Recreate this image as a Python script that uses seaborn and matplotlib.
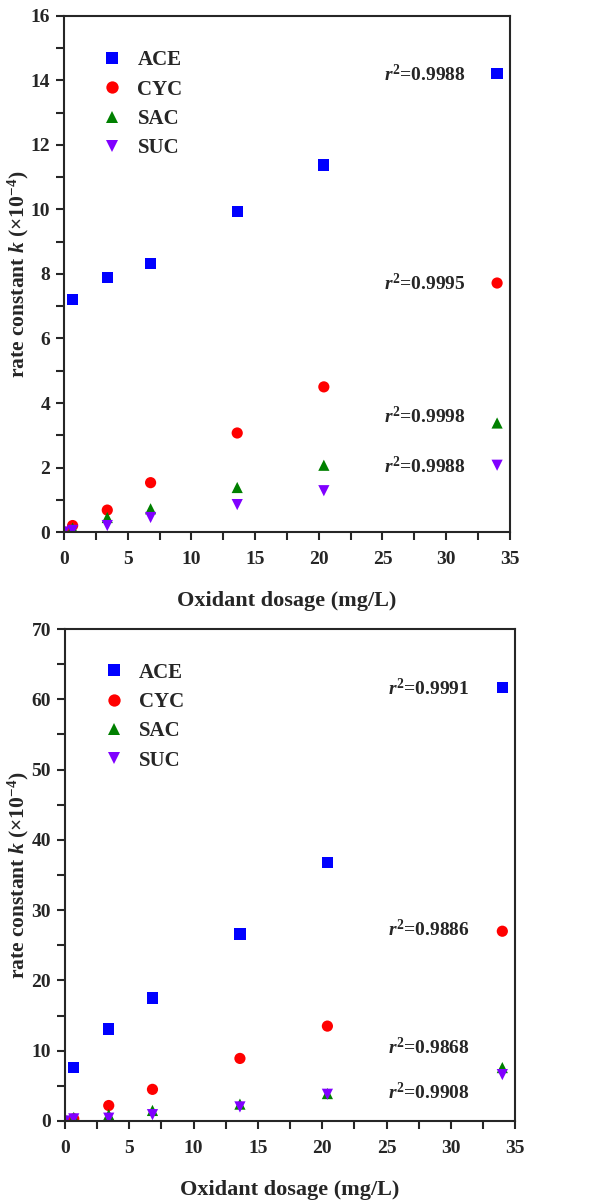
import numpy as np
import pandas as pd
import seaborn as sns
import matplotlib.pyplot as plt
from matplotlib.ticker import MultipleLocator

sns.set_style("ticks")
plt.rcParams['font.family'] = ['Liberation Serif', 'DejaVu Serif']
plt.rcParams['font.weight'] = 'bold'
plt.rcParams['mathtext.fontset'] = 'custom'
plt.rcParams['mathtext.rm'] = 'Liberation Serif:bold'
plt.rcParams['mathtext.it'] = 'Liberation Serif:italic:bold'
plt.rcParams['mathtext.bf'] = 'Liberation Serif:bold'

# oxidant dosage (mg/L)
dosage = [0, 0.68, 3.4, 6.8, 13.6, 20.4, 34]
compounds = ['ACE', 'CYC', 'SAC', 'SUC']

# top panel, k (x10^-4)
ace_top = [np.nan, 7.2, 7.9, 8.33, 9.95, 11.38, 14.22]
cyc_top = [0, 0.2, 0.68, 1.53, 3.07, 4.5, 7.72]
sac_top = [0, 0.12, 0.45, 0.72, 1.38, 2.07, 3.38]
suc_top = [0, 0.05, 0.2, 0.45, 0.85, 1.28, 2.07]
r2_top = ['0.9988', '0.9995', '0.9998', '0.9988']
r2_top_y = [14.2, 7.72, 3.57, 2.02]

# bottom panel
ace_bot = [np.nan, 7.6, 13.1, 17.5, 26.6, 36.8, 61.7]
cyc_bot = [0, 0.3, 2.2, 4.5, 8.9, 13.5, 27.0]
sac_bot = [0, 0.5, 0.9, 1.5, 2.4, 3.9, 7.6]
suc_bot = [0, 0.3, 0.4, 0.9, 2.0, 3.8, 6.6]
r2_bot = ['0.9991', '0.9886', '0.9868', '0.9908']
r2_bot_y = [61.5, 27.2, 10.5, 4.0]

colors = {'ACE': '#0000ff', 'CYC': '#ff0000', 'SAC': '#008000', 'SUC': '#8000ff'}
markers = {'ACE': 's', 'CYC': 'o', 'SAC': '^', 'SUC': 'v'}


def make_df(series):
    rows = []
    for name, vals in zip(compounds, series):
        for x, y in zip(dosage, vals):
            if not np.isnan(y):
                rows.append({'dosage': x, 'k': y, 'compound': name})
    return pd.DataFrame(rows)


def draw(ax, df, ymax, ymaj, r2, r2y):
    sns.scatterplot(data=df, x='dosage', y='k', hue='compound', style='compound',
                    palette=colors, markers=markers, s=65, linewidth=0, ax=ax)
    ax.set_xlim(0, 35)
    ax.set_ylim(0, ymax)
    ax.xaxis.set_major_locator(MultipleLocator(5))
    ax.xaxis.set_minor_locator(MultipleLocator(2.5))
    ax.yaxis.set_major_locator(MultipleLocator(ymaj))
    ax.yaxis.set_minor_locator(MultipleLocator(ymaj / 2))
    ax.tick_params(which='both', direction='out', length=6, width=1.5, labelsize=14)
    ax.tick_params(axis='x', pad=8)
    ax.tick_params(axis='y', pad=4)
    for sp in ax.spines.values():
        sp.set_linewidth(1.5)
    ax.set_xlabel('Oxidant dosage (mg/L)', fontsize=16, fontweight='bold', labelpad=16)
    ax.set_ylabel(r'rate constant $\it{k}$ ($\times$10$^{-4}$)', fontsize=15.5,
                  fontweight='bold')
    ax.yaxis.set_label_coords(-0.075, 0.5)
    for t, y in zip(r2, r2y):
        ax.text(28.3, y, r'$\it{r}^{\rm 2}$=' + t, ha='center', va='center',
                fontsize=14, fontweight='bold')
    h, l = ax.get_legend_handles_labels()
    ax.legend(h, l, loc='upper left', frameon=False, fontsize=15,
              bbox_to_anchor=(0.02, 0.97), labelspacing=0.45, handletextpad=0.2,
              markerscale=1.1)


fig = plt.figure(figsize=(6.15, 12.02), dpi=100)
ax1 = fig.add_axes([0.104, 0.5574, 0.725, 0.4293])
ax2 = fig.add_axes([0.1057, 0.0674, 0.732, 0.4093])

draw(ax1, make_df([ace_top, cyc_top, sac_top, suc_top]), 16, 2, r2_top, r2_top_y)
draw(ax2, make_df([ace_bot, cyc_bot, sac_bot, suc_bot]), 70, 10, r2_bot, r2_bot_y)

fig.savefig('out.png', dpi=100)
